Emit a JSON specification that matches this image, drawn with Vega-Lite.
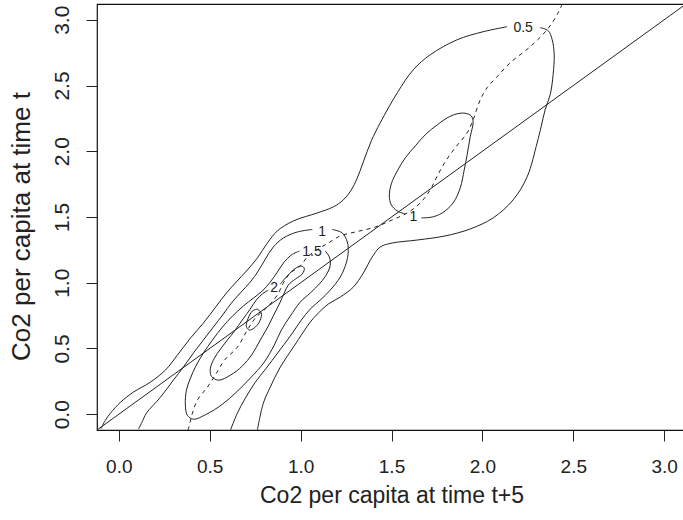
{
  "$schema": "https://vega.github.io/schema/vega-lite/v6.json",
  "width": 589,
  "height": 426,
  "autosize": "none",
  "padding": {"left": 97, "top": 4, "right": 0, "bottom": 90},
  "background": "white",
  "config": {
    "font": "Liberation Sans",
    "view": {"stroke": "#111111", "strokeWidth": 1.2},
    "axis": {"grid": false, "domain": false, "tickColor": "#222222", "tickSize": 11, "tickWidth": 1, "labelColor": "#222222", "titleColor": "#222222", "titleFontWeight": "normal", "labelFont": "Liberation Sans", "titleFont": "Liberation Sans"}
  },
  "datasets": {
    "contours": [
      {"level": "0.5", "piece": "a", "i": 1, "x": -0.098, "y": -0.110},
      {"level": "0.5", "piece": "a", "i": 2, "x": -0.074, "y": -0.046},
      {"level": "0.5", "piece": "a", "i": 3, "x": -0.046, "y": 0.008},
      {"level": "0.5", "piece": "a", "i": 4, "x": 0.009, "y": 0.091},
      {"level": "0.5", "piece": "a", "i": 5, "x": 0.080, "y": 0.168},
      {"level": "0.5", "piece": "a", "i": 6, "x": 0.174, "y": 0.244},
      {"level": "0.5", "piece": "a", "i": 7, "x": 0.256, "y": 0.335},
      {"level": "0.5", "piece": "a", "i": 8, "x": 0.322, "y": 0.449},
      {"level": "0.5", "piece": "a", "i": 9, "x": 0.394, "y": 0.579},
      {"level": "0.5", "piece": "a", "i": 10, "x": 0.465, "y": 0.693},
      {"level": "0.5", "piece": "a", "i": 11, "x": 0.537, "y": 0.823},
      {"level": "0.5", "piece": "a", "i": 12, "x": 0.592, "y": 0.922},
      {"level": "0.5", "piece": "a", "i": 13, "x": 0.641, "y": 0.998},
      {"level": "0.5", "piece": "a", "i": 14, "x": 0.707, "y": 1.097},
      {"level": "0.5", "piece": "a", "i": 15, "x": 0.762, "y": 1.188},
      {"level": "0.5", "piece": "a", "i": 16, "x": 0.817, "y": 1.302},
      {"level": "0.5", "piece": "a", "i": 17, "x": 0.872, "y": 1.394},
      {"level": "0.5", "piece": "a", "i": 18, "x": 0.960, "y": 1.470},
      {"level": "0.5", "piece": "a", "i": 19, "x": 1.092, "y": 1.531},
      {"level": "0.5", "piece": "a", "i": 20, "x": 1.180, "y": 1.577},
      {"level": "0.5", "piece": "a", "i": 21, "x": 1.235, "y": 1.630},
      {"level": "0.5", "piece": "a", "i": 22, "x": 1.279, "y": 1.706},
      {"level": "0.5", "piece": "a", "i": 23, "x": 1.312, "y": 1.797},
      {"level": "0.5", "piece": "a", "i": 24, "x": 1.345, "y": 1.919},
      {"level": "0.5", "piece": "a", "i": 25, "x": 1.389, "y": 2.079},
      {"level": "0.5", "piece": "a", "i": 26, "x": 1.438, "y": 2.216},
      {"level": "0.5", "piece": "a", "i": 27, "x": 1.532, "y": 2.445},
      {"level": "0.5", "piece": "a", "i": 28, "x": 1.620, "y": 2.620},
      {"level": "0.5", "piece": "a", "i": 29, "x": 1.713, "y": 2.734},
      {"level": "0.5", "piece": "a", "i": 30, "x": 1.861, "y": 2.848},
      {"level": "0.5", "piece": "a", "i": 31, "x": 2.004, "y": 2.909},
      {"level": "0.5", "piece": "a", "i": 32, "x": 2.136, "y": 2.947},

      {"level": "0.5", "piece": "b", "i": 1, "x": 2.318, "y": 2.940},
      {"level": "0.5", "piece": "b", "i": 2, "x": 2.362, "y": 2.917},
      {"level": "0.5", "piece": "b", "i": 3, "x": 2.384, "y": 2.848},
      {"level": "0.5", "piece": "b", "i": 4, "x": 2.395, "y": 2.734},
      {"level": "0.5", "piece": "b", "i": 5, "x": 2.389, "y": 2.582},
      {"level": "0.5", "piece": "b", "i": 6, "x": 2.373, "y": 2.430},
      {"level": "0.5", "piece": "b", "i": 7, "x": 2.345, "y": 2.315},
      {"level": "0.5", "piece": "b", "i": 8, "x": 2.323, "y": 2.186},
      {"level": "0.5", "piece": "b", "i": 9, "x": 2.301, "y": 2.064},
      {"level": "0.5", "piece": "b", "i": 10, "x": 2.246, "y": 1.805},
      {"level": "0.5", "piece": "b", "i": 11, "x": 2.169, "y": 1.630},
      {"level": "0.5", "piece": "b", "i": 12, "x": 2.059, "y": 1.493},
      {"level": "0.5", "piece": "b", "i": 13, "x": 1.933, "y": 1.409},
      {"level": "0.5", "piece": "b", "i": 14, "x": 1.795, "y": 1.356},
      {"level": "0.5", "piece": "b", "i": 15, "x": 1.642, "y": 1.325},
      {"level": "0.5", "piece": "b", "i": 16, "x": 1.504, "y": 1.302},
      {"level": "0.5", "piece": "b", "i": 17, "x": 1.438, "y": 1.272},
      {"level": "0.5", "piece": "b", "i": 18, "x": 1.394, "y": 1.196},
      {"level": "0.5", "piece": "b", "i": 19, "x": 1.345, "y": 1.074},
      {"level": "0.5", "piece": "b", "i": 20, "x": 1.290, "y": 0.967},
      {"level": "0.5", "piece": "b", "i": 21, "x": 1.218, "y": 0.891},
      {"level": "0.5", "piece": "b", "i": 22, "x": 1.152, "y": 0.838},
      {"level": "0.5", "piece": "b", "i": 23, "x": 1.097, "y": 0.769},
      {"level": "0.5", "piece": "b", "i": 24, "x": 1.053, "y": 0.701},
      {"level": "0.5", "piece": "b", "i": 25, "x": 1.015, "y": 0.625},
      {"level": "0.5", "piece": "b", "i": 26, "x": 0.960, "y": 0.510},
      {"level": "0.5", "piece": "b", "i": 27, "x": 0.888, "y": 0.358},
      {"level": "0.5", "piece": "b", "i": 28, "x": 0.833, "y": 0.206},
      {"level": "0.5", "piece": "b", "i": 29, "x": 0.795, "y": 0.084},
      {"level": "0.5", "piece": "b", "i": 30, "x": 0.762, "y": -0.122},

      {"level": "1", "piece": "a", "i": 1, "x": 0.108, "y": -0.114},
      {"level": "1", "piece": "a", "i": 2, "x": 0.130, "y": -0.053},
      {"level": "1", "piece": "a", "i": 3, "x": 0.152, "y": 0.008},
      {"level": "1", "piece": "a", "i": 4, "x": 0.229, "y": 0.129},
      {"level": "1", "piece": "a", "i": 5, "x": 0.300, "y": 0.259},
      {"level": "1", "piece": "a", "i": 6, "x": 0.355, "y": 0.358},
      {"level": "1", "piece": "a", "i": 7, "x": 0.410, "y": 0.465},
      {"level": "1", "piece": "a", "i": 8, "x": 0.465, "y": 0.564},
      {"level": "1", "piece": "a", "i": 9, "x": 0.520, "y": 0.663},
      {"level": "1", "piece": "a", "i": 10, "x": 0.575, "y": 0.762},
      {"level": "1", "piece": "a", "i": 11, "x": 0.619, "y": 0.845},
      {"level": "1", "piece": "a", "i": 12, "x": 0.668, "y": 0.922},
      {"level": "1", "piece": "a", "i": 13, "x": 0.723, "y": 1.005},
      {"level": "1", "piece": "a", "i": 14, "x": 0.767, "y": 1.089},
      {"level": "1", "piece": "a", "i": 15, "x": 0.806, "y": 1.180},
      {"level": "1", "piece": "a", "i": 16, "x": 0.850, "y": 1.272},
      {"level": "1", "piece": "a", "i": 17, "x": 0.905, "y": 1.340},
      {"level": "1", "piece": "a", "i": 18, "x": 0.982, "y": 1.386},
      {"level": "1", "piece": "a", "i": 19, "x": 1.064, "y": 1.405},

      {"level": "1", "piece": "b", "i": 1, "x": 1.174, "y": 1.405},
      {"level": "1", "piece": "b", "i": 2, "x": 1.229, "y": 1.379},
      {"level": "1", "piece": "b", "i": 3, "x": 1.257, "y": 1.310},
      {"level": "1", "piece": "b", "i": 4, "x": 1.262, "y": 1.234},
      {"level": "1", "piece": "b", "i": 5, "x": 1.251, "y": 1.150},
      {"level": "1", "piece": "b", "i": 6, "x": 1.218, "y": 1.043},
      {"level": "1", "piece": "b", "i": 7, "x": 1.163, "y": 0.944},
      {"level": "1", "piece": "b", "i": 8, "x": 1.108, "y": 0.868},
      {"level": "1", "piece": "b", "i": 9, "x": 1.053, "y": 0.800},
      {"level": "1", "piece": "b", "i": 10, "x": 1.004, "y": 0.716},
      {"level": "1", "piece": "b", "i": 11, "x": 0.943, "y": 0.594},
      {"level": "1", "piece": "b", "i": 12, "x": 0.877, "y": 0.472},
      {"level": "1", "piece": "b", "i": 13, "x": 0.811, "y": 0.350},
      {"level": "1", "piece": "b", "i": 14, "x": 0.751, "y": 0.244},
      {"level": "1", "piece": "b", "i": 15, "x": 0.696, "y": 0.122},
      {"level": "1", "piece": "b", "i": 16, "x": 0.652, "y": 0.008},
      {"level": "1", "piece": "b", "i": 17, "x": 0.614, "y": -0.122},

      {"level": "1", "piece": "c", "i": 1, "x": 1.664, "y": 1.493},
      {"level": "1", "piece": "c", "i": 2, "x": 1.724, "y": 1.500},
      {"level": "1", "piece": "c", "i": 3, "x": 1.779, "y": 1.531},
      {"level": "1", "piece": "c", "i": 4, "x": 1.839, "y": 1.607},
      {"level": "1", "piece": "c", "i": 5, "x": 1.878, "y": 1.721},
      {"level": "1", "piece": "c", "i": 6, "x": 1.900, "y": 1.858},
      {"level": "1", "piece": "c", "i": 7, "x": 1.916, "y": 1.973},
      {"level": "1", "piece": "c", "i": 8, "x": 1.933, "y": 2.110},
      {"level": "1", "piece": "c", "i": 9, "x": 1.949, "y": 2.224},
      {"level": "1", "piece": "c", "i": 10, "x": 1.938, "y": 2.270},
      {"level": "1", "piece": "c", "i": 11, "x": 1.905, "y": 2.289},
      {"level": "1", "piece": "c", "i": 12, "x": 1.861, "y": 2.285},
      {"level": "1", "piece": "c", "i": 13, "x": 1.806, "y": 2.254},
      {"level": "1", "piece": "c", "i": 14, "x": 1.752, "y": 2.201},
      {"level": "1", "piece": "c", "i": 15, "x": 1.691, "y": 2.133},
      {"level": "1", "piece": "c", "i": 16, "x": 1.631, "y": 2.041},
      {"level": "1", "piece": "c", "i": 17, "x": 1.576, "y": 1.950},
      {"level": "1", "piece": "c", "i": 18, "x": 1.532, "y": 1.851},
      {"level": "1", "piece": "c", "i": 19, "x": 1.499, "y": 1.752},
      {"level": "1", "piece": "c", "i": 20, "x": 1.488, "y": 1.660},
      {"level": "1", "piece": "c", "i": 21, "x": 1.499, "y": 1.592},
      {"level": "1", "piece": "c", "i": 22, "x": 1.532, "y": 1.546},
      {"level": "1", "piece": "c", "i": 23, "x": 1.576, "y": 1.523},

      {"level": "1.5", "piece": "a", "i": 1, "x": 1.136, "y": 1.241},
      {"level": "1.5", "piece": "a", "i": 2, "x": 1.158, "y": 1.196},
      {"level": "1.5", "piece": "a", "i": 3, "x": 1.163, "y": 1.135},
      {"level": "1.5", "piece": "a", "i": 4, "x": 1.147, "y": 1.074},
      {"level": "1.5", "piece": "a", "i": 5, "x": 1.108, "y": 0.998},
      {"level": "1.5", "piece": "a", "i": 6, "x": 1.053, "y": 0.922},
      {"level": "1.5", "piece": "a", "i": 7, "x": 0.998, "y": 0.853},
      {"level": "1.5", "piece": "a", "i": 8, "x": 0.943, "y": 0.746},
      {"level": "1.5", "piece": "a", "i": 9, "x": 0.894, "y": 0.640},
      {"level": "1.5", "piece": "a", "i": 10, "x": 0.855, "y": 0.526},
      {"level": "1.5", "piece": "a", "i": 11, "x": 0.800, "y": 0.396},
      {"level": "1.5", "piece": "a", "i": 12, "x": 0.723, "y": 0.274},
      {"level": "1.5", "piece": "a", "i": 13, "x": 0.647, "y": 0.168},
      {"level": "1.5", "piece": "a", "i": 14, "x": 0.570, "y": 0.076},
      {"level": "1.5", "piece": "a", "i": 15, "x": 0.482, "y": 0.000},
      {"level": "1.5", "piece": "a", "i": 16, "x": 0.410, "y": -0.038},
      {"level": "1.5", "piece": "a", "i": 17, "x": 0.377, "y": -0.008},
      {"level": "1.5", "piece": "a", "i": 18, "x": 0.366, "y": 0.069},
      {"level": "1.5", "piece": "a", "i": 19, "x": 0.372, "y": 0.183},
      {"level": "1.5", "piece": "a", "i": 20, "x": 0.394, "y": 0.274},
      {"level": "1.5", "piece": "a", "i": 21, "x": 0.421, "y": 0.358},
      {"level": "1.5", "piece": "a", "i": 22, "x": 0.465, "y": 0.465},
      {"level": "1.5", "piece": "a", "i": 23, "x": 0.515, "y": 0.564},
      {"level": "1.5", "piece": "a", "i": 24, "x": 0.570, "y": 0.663},
      {"level": "1.5", "piece": "a", "i": 25, "x": 0.625, "y": 0.746},
      {"level": "1.5", "piece": "a", "i": 26, "x": 0.685, "y": 0.823},
      {"level": "1.5", "piece": "a", "i": 27, "x": 0.740, "y": 0.883},
      {"level": "1.5", "piece": "a", "i": 28, "x": 0.789, "y": 0.937},
      {"level": "1.5", "piece": "a", "i": 29, "x": 0.833, "y": 1.005},
      {"level": "1.5", "piece": "a", "i": 30, "x": 0.872, "y": 1.081},
      {"level": "1.5", "piece": "a", "i": 31, "x": 0.910, "y": 1.158},
      {"level": "1.5", "piece": "a", "i": 32, "x": 0.949, "y": 1.211},
      {"level": "1.5", "piece": "a", "i": 33, "x": 0.993, "y": 1.241},

      {"level": "2", "piece": "a", "i": 1, "x": 0.888, "y": 0.990},
      {"level": "2", "piece": "a", "i": 2, "x": 0.921, "y": 1.043},
      {"level": "2", "piece": "a", "i": 3, "x": 0.960, "y": 1.097},
      {"level": "2", "piece": "a", "i": 4, "x": 0.998, "y": 1.127},
      {"level": "2", "piece": "a", "i": 5, "x": 1.020, "y": 1.112},
      {"level": "2", "piece": "a", "i": 6, "x": 1.009, "y": 1.066},
      {"level": "2", "piece": "a", "i": 7, "x": 0.971, "y": 1.028},
      {"level": "2", "piece": "a", "i": 8, "x": 0.932, "y": 0.982},
      {"level": "2", "piece": "a", "i": 9, "x": 0.910, "y": 0.922},
      {"level": "2", "piece": "a", "i": 10, "x": 0.888, "y": 0.853},
      {"level": "2", "piece": "a", "i": 11, "x": 0.855, "y": 0.762},
      {"level": "2", "piece": "a", "i": 12, "x": 0.822, "y": 0.670},
      {"level": "2", "piece": "a", "i": 13, "x": 0.778, "y": 0.564},
      {"level": "2", "piece": "a", "i": 14, "x": 0.734, "y": 0.457},
      {"level": "2", "piece": "a", "i": 15, "x": 0.679, "y": 0.366},
      {"level": "2", "piece": "a", "i": 16, "x": 0.614, "y": 0.297},
      {"level": "2", "piece": "a", "i": 17, "x": 0.548, "y": 0.259},
      {"level": "2", "piece": "a", "i": 18, "x": 0.509, "y": 0.289},
      {"level": "2", "piece": "a", "i": 19, "x": 0.504, "y": 0.350},
      {"level": "2", "piece": "a", "i": 20, "x": 0.526, "y": 0.427},
      {"level": "2", "piece": "a", "i": 21, "x": 0.559, "y": 0.495},
      {"level": "2", "piece": "a", "i": 22, "x": 0.597, "y": 0.564},
      {"level": "2", "piece": "a", "i": 23, "x": 0.636, "y": 0.632},
      {"level": "2", "piece": "a", "i": 24, "x": 0.679, "y": 0.716},
      {"level": "2", "piece": "a", "i": 25, "x": 0.723, "y": 0.800},
      {"level": "2", "piece": "a", "i": 26, "x": 0.756, "y": 0.868},
      {"level": "2", "piece": "a", "i": 27, "x": 0.789, "y": 0.914},
      {"level": "2", "piece": "a", "i": 28, "x": 0.822, "y": 0.944},

      {"level": "2.5", "piece": "a", "i": 1, "x": 0.762, "y": 0.800},
      {"level": "2.5", "piece": "a", "i": 2, "x": 0.784, "y": 0.769},
      {"level": "2.5", "piece": "a", "i": 3, "x": 0.778, "y": 0.716},
      {"level": "2.5", "piece": "a", "i": 4, "x": 0.751, "y": 0.663},
      {"level": "2.5", "piece": "a", "i": 5, "x": 0.718, "y": 0.640},
      {"level": "2.5", "piece": "a", "i": 6, "x": 0.701, "y": 0.670},
      {"level": "2.5", "piece": "a", "i": 7, "x": 0.712, "y": 0.731},
      {"level": "2.5", "piece": "a", "i": 8, "x": 0.734, "y": 0.784},
      {"level": "2.5", "piece": "a", "i": 9, "x": 0.762, "y": 0.800}
    ],
    "fit": [
      {"i": 1, "x": 2.439, "y": 3.119},
      {"i": 2, "x": 2.411, "y": 3.039},
      {"i": 3, "x": 2.356, "y": 2.925},
      {"i": 4, "x": 2.263, "y": 2.795},
      {"i": 5, "x": 2.153, "y": 2.673},
      {"i": 6, "x": 2.081, "y": 2.567},
      {"i": 7, "x": 2.026, "y": 2.483},
      {"i": 8, "x": 1.988, "y": 2.391},
      {"i": 9, "x": 1.949, "y": 2.239},
      {"i": 10, "x": 1.916, "y": 2.140},
      {"i": 11, "x": 1.850, "y": 2.026},
      {"i": 12, "x": 1.795, "y": 1.919},
      {"i": 13, "x": 1.752, "y": 1.813},
      {"i": 14, "x": 1.713, "y": 1.706},
      {"i": 15, "x": 1.658, "y": 1.607},
      {"i": 16, "x": 1.587, "y": 1.531},
      {"i": 17, "x": 1.504, "y": 1.478},
      {"i": 18, "x": 1.411, "y": 1.424},
      {"i": 19, "x": 1.301, "y": 1.386},
      {"i": 20, "x": 1.218, "y": 1.356},
      {"i": 21, "x": 1.152, "y": 1.302},
      {"i": 22, "x": 1.097, "y": 1.257},
      {"i": 23, "x": 1.037, "y": 1.196},
      {"i": 24, "x": 0.998, "y": 1.127},
      {"i": 25, "x": 0.943, "y": 1.074},
      {"i": 26, "x": 0.905, "y": 0.998},
      {"i": 27, "x": 0.872, "y": 0.906},
      {"i": 28, "x": 0.817, "y": 0.815},
      {"i": 29, "x": 0.751, "y": 0.731},
      {"i": 30, "x": 0.707, "y": 0.640},
      {"i": 31, "x": 0.652, "y": 0.510},
      {"i": 32, "x": 0.581, "y": 0.411},
      {"i": 33, "x": 0.537, "y": 0.312},
      {"i": 34, "x": 0.487, "y": 0.206},
      {"i": 35, "x": 0.432, "y": 0.107},
      {"i": 36, "x": 0.405, "y": 0.008},
      {"i": 37, "x": 0.388, "y": -0.084},
      {"i": 38, "x": 0.377, "y": -0.137}
    ],
    "identity": [
      {"i": 1, "x": -0.2, "y": -0.2},
      {"i": 2, "x": 3.2, "y": 3.2}
    ],
    "levels": [
      {"label": "0.5", "x": 2.224, "y": 2.940},
      {"label": "1", "x": 1.118, "y": 1.386},
      {"label": "1.5", "x": 1.063, "y": 1.234},
      {"label": "2", "x": 0.855, "y": 0.960},
      {"label": "1", "x": 1.621, "y": 1.500}
    ]
  },
  "encoding": {
    "x": {
      "field": "x", "type": "quantitative",
      "scale": {"domain": [-0.12, 3.12], "nice": false, "zero": false},
      "axis": {
        "title": "Co2 per capita at time t+5",
        "values": [0, 0.5, 1, 1.5, 2, 2.5, 3], "format": ".1f",
        "labelFontSize": 19, "labelBaseline": "alphabetic", "labelPadding": 31,
        "titleFontSize": 23, "titleBaseline": "alphabetic", "titleY": 72
      }
    },
    "y": {
      "field": "y", "type": "quantitative",
      "scale": {"domain": [-0.12, 3.12], "nice": false, "zero": false},
      "axis": {
        "title": "Co2 per capita at time t",
        "values": [0, 0.5, 1, 1.5, 2, 2.5, 3], "format": ".1f",
        "labelFontSize": 21, "labelAngle": 270, "labelAlign": "center", "labelBaseline": "alphabetic", "labelPadding": 18,
        "titleFontSize": 26, "titleAngle": 270, "titleAlign": "center", "titleBaseline": "alphabetic", "titleX": -68, "titleY": 222
      }
    }
  },
  "layer": [
    {
      "data": {"name": "contours"},
      "mark": {"type": "line", "clip": true, "stroke": "#222222", "strokeWidth": 1, "interpolate": "catmull-rom"},
      "encoding": {"detail": [{"field": "level"}, {"field": "piece"}], "order": {"field": "i", "type": "quantitative"}}
    },
    {
      "data": {"name": "fit"},
      "mark": {"type": "line", "clip": true, "stroke": "#222222", "strokeWidth": 1, "strokeDash": [4, 4], "interpolate": "catmull-rom"},
      "encoding": {"order": {"field": "i", "type": "quantitative"}}
    },
    {
      "data": {"name": "identity"},
      "mark": {"type": "line", "clip": true, "stroke": "#222222", "strokeWidth": 1},
      "encoding": {"order": {"field": "i", "type": "quantitative"}}
    },
    {
      "data": {"name": "levels"},
      "mark": {"type": "text", "fontSize": 14, "fill": "#222222", "align": "center", "baseline": "middle"},
      "encoding": {"text": {"field": "label"}}
    }
  ]
}
